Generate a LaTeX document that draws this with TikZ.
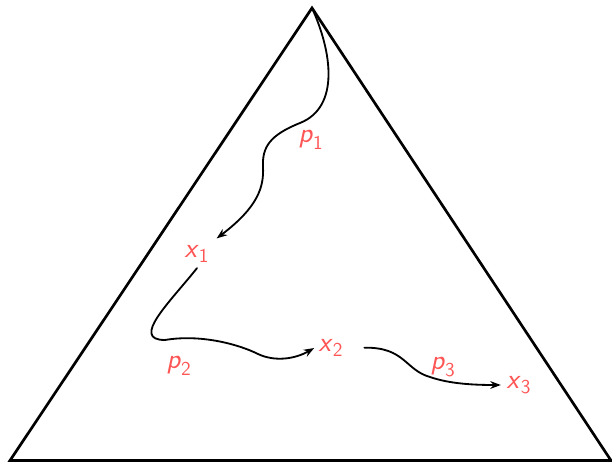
\documentclass[tikz,border=0pt]{standalone}
\usepackage{amsmath}
\usetikzlibrary{positioning,arrows.meta}
\usepackage{xcolor}
\definecolor{labred}{RGB}{255,85,85}
\newcommand{\lab}[2]{$\textsf{\textit{#1}}_{\textsf{#2}}$}

\begin{document}
\begin{tikzpicture}[
  x=0.025cm,y=0.025cm,
  line cap=round,line join=round,
  >=Stealth,
  simplex/.style={draw=black,line width=1.9pt,line join=miter},
  walk/.style={-{Stealth[length=7.5pt,width=5.5pt]},draw=black,line width=1.3pt},
  lbl/.style={text=labred,inner sep=2pt,font=\fontsize{20}{24}\selectfont}
]
  \path[use as bounding box] (0,0) rectangle (612,462);

  \coordinate (apex) at (312,454);
  \coordinate (left) at (10,1.5);
  \coordinate (right) at (611,1.5);
  \draw[simplex] (apex) -- (left) -- (right) -- cycle;

  \node[lbl] (x1) at (197,208) {\lab{x}{1}};
  \node[lbl] (x2) at (331,114) {\lab{x}{2}};
  \node[lbl] (x3) at (519,77) {\lab{x}{3}};
  \node[lbl] (p1) at (311,322) {\lab{p}{1}};
  \node[lbl] (p2) at (179,96) {\lab{p}{2}};
  \node[lbl] (p3) at (443,95) {\lab{p}{3}};

  \draw[walk] (apex) .. controls (332,410) and (340,355) .. (300,339)
    .. controls (270,327) and (262,315) .. (263,295)
    .. controls (264,275) and (258,255) .. ([xshift=3pt,yshift=3pt]x1.north east);
  \draw[walk] ([yshift=-2pt]x1.south) .. controls (170,160) and (130,122) .. (165,122)
    .. controls (200,128) and (238,118) .. (258,108)
    .. controls (275,100) and (295,103) .. ([xshift=-1pt]x2.west);
  \draw[walk,shorten <=0.45cm] (x2.east) .. controls (405,115) and (405,92) .. (430,85)
    .. controls (450,78) and (475,77) .. ([xshift=-2pt]x3.west);
\end{tikzpicture}
\end{document}
